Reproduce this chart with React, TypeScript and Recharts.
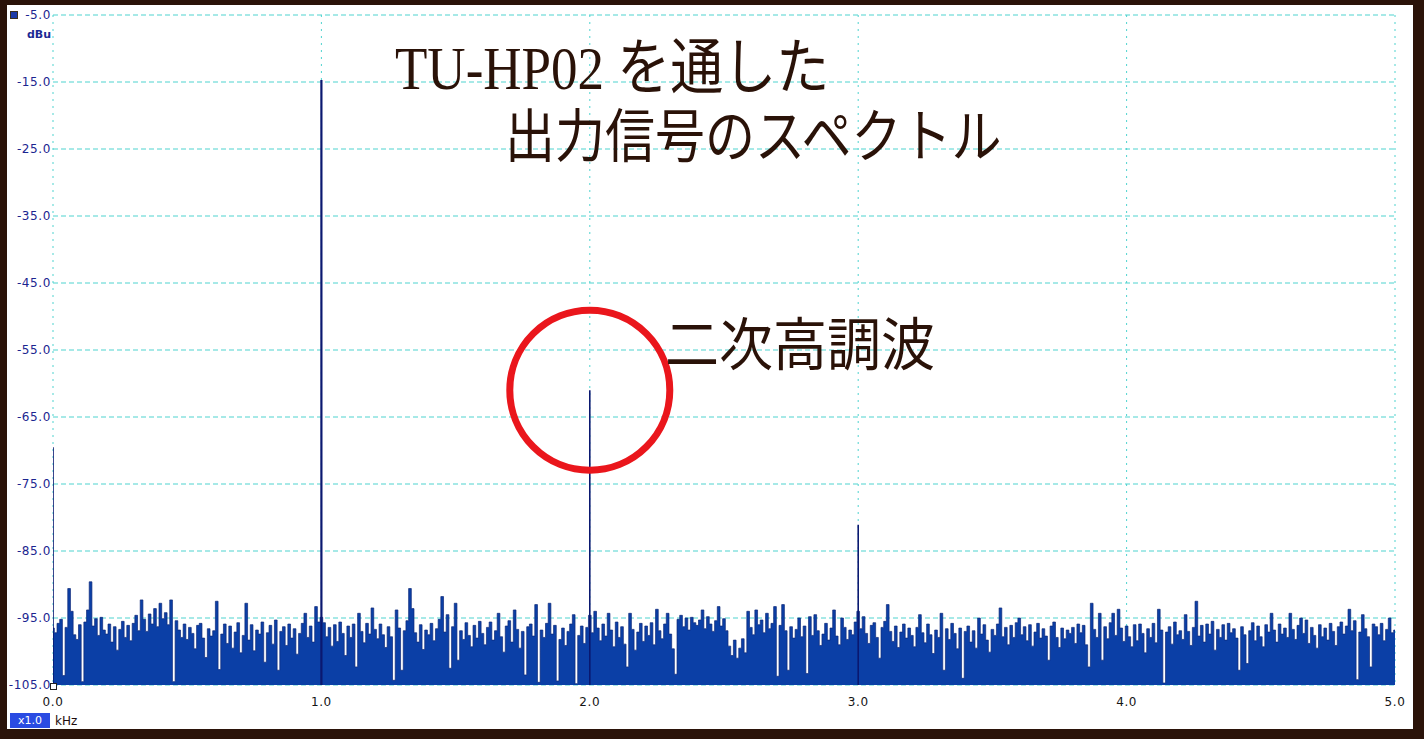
import React from 'react';
import { ComposedChart, Area, Line, XAxis, YAxis, CartesianGrid, ReferenceDot } from 'recharts';

// Noise floor spectrum, one value per 10 Hz bin from 0.00 to 5.00 kHz (dBu)
const noiseLevels: number[] = [
  -96.5, -97.2, -95.8, -95.2, -103.6, -96.4, -90.6, -94.0, -97.5, -98.2, -96.0, -104.5, -95.6, -93.8, -89.6, -96.2, -95.1, -97.6, -94.9, -96.8,
  -97.4, -95.9, -98.6, -96.3, -99.8, -96.7, -95.5, -97.9, -96.1, -98.4, -95.8, -94.6, -96.9, -92.3, -95.2, -97.0, -94.4, -95.9, -93.6, -96.3,
  -92.8, -95.1, -94.2, -96.0, -92.3, -104.5, -95.4, -96.8, -97.9, -95.9, -98.2, -96.4, -97.3, -99.6, -96.1, -95.8, -98.0, -100.9, -96.6, -97.7,
  -96.9, -92.5, -102.7, -97.4, -95.9, -98.8, -96.2, -99.5, -97.1, -95.7, -100.2, -97.6, -92.8, -98.3, -96.0, -99.9, -96.8, -97.4, -95.6, -101.6,
  -97.2, -96.1, -98.9, -95.3, -102.8, -97.0, -96.3, -99.1, -95.9, -98.0, -96.6, -100.4, -97.3, -95.8, -94.3, -97.9, -96.2, -98.6, -93.3, -95.6,
  -94.9, -95.7, -97.8, -96.4, -99.2, -96.0, -98.5, -95.6, -97.3, -100.6, -96.2, -97.9, -95.9, -102.3, -94.3, -97.0, -98.7, -95.8, -97.4, -93.5,
  -96.7, -98.1, -95.9, -97.5, -99.4, -96.3, -97.8, -104.3, -93.8, -96.5, -102.8, -96.9, -95.4, -90.6, -93.6, -97.2, -98.6, -96.0, -99.7, -96.8,
  -97.5, -95.8, -98.4, -96.6, -95.2, -91.8, -97.1, -94.5, -102.5, -96.3, -92.8, -101.3, -96.9, -98.2, -95.7, -97.6, -99.3, -96.1, -98.0, -95.5,
  -97.3, -99.0, -96.4, -95.6, -98.3, -96.9, -94.3, -97.8, -100.1, -96.2, -95.4, -98.6, -93.8, -96.7, -99.5, -97.0, -103.5, -96.3, -95.9, -97.7,
  -93.0, -104.6, -96.8, -97.9, -95.8, -92.8, -97.4, -96.1, -104.4, -98.2, -96.5, -99.1, -97.0, -95.9, -94.5, -104.8, -97.6, -96.2, -98.8, -96.4,
  -94.6, -97.2, -94.0, -96.5, -98.4, -95.9, -97.7, -94.3, -96.8, -99.3, -95.6, -97.9, -96.3, -98.9, -102.3, -94.3, -96.7, -99.8, -97.1, -95.8,
  -98.5, -96.2, -97.6, -95.7, -99.0, -93.7, -96.9, -98.1, -95.9, -94.3, -97.4, -99.6, -103.4, -95.2, -94.6, -96.3, -95.0, -96.8, -94.9, -95.7,
  -96.1, -95.3, -93.8, -96.6, -94.8, -95.9, -97.0, -95.4, -93.3, -96.2, -95.1, -96.9, -99.2, -100.6, -98.3, -101.0, -99.5, -98.1, -100.2, -94.0,
  -96.4, -97.5, -93.8, -96.0, -95.3, -97.2, -94.3, -96.6, -95.8, -93.3, -103.7, -96.1, -93.0, -96.9, -102.8, -96.3, -98.0, -96.7, -95.0, -97.8,
  -96.2, -103.3, -94.8, -97.6, -94.5, -96.9, -99.1, -97.4, -95.8, -98.3, -96.5, -93.8, -97.7, -99.0, -95.0, -96.4, -98.2, -96.8, -97.5, -95.6,
  -94.0, -96.6, -94.8, -97.3, -98.8, -96.1, -95.7, -97.9, -101.0, -96.4, -95.5, -93.0, -97.0, -98.5, -96.2, -99.4, -97.1, -95.9, -98.0, -96.5,
  -97.6, -99.3, -96.4, -94.5, -97.2, -98.7, -95.9, -97.5, -100.3, -96.8, -97.9, -94.3, -102.8, -96.6, -98.2, -95.8, -97.3, -99.6, -96.5, -104.0,
  -97.0, -96.2, -98.6, -96.9, -99.5, -95.0, -97.4, -96.0, -98.3, -100.1, -96.7, -97.6, -95.9, -93.5, -97.8, -96.4, -99.0, -96.1, -97.9, -95.7,
  -95.0, -97.5, -96.3, -98.4, -96.0, -99.2, -97.1, -95.8, -98.0, -96.6, -97.7, -101.3, -96.2, -95.6, -97.9, -99.4, -96.5, -98.1, -96.8, -97.3,
  -96.4, -98.8, -95.9, -97.2, -96.1, -99.0, -102.3, -92.8, -96.7, -97.9, -94.3, -101.3, -96.3, -98.1, -95.7, -94.3, -97.6, -93.7, -96.5, -98.5,
  -96.2, -97.8, -99.3, -96.0, -98.4, -95.9, -97.3, -100.2, -96.6, -97.9, -95.8, -98.7, -93.7, -96.8, -104.7, -97.1, -96.3, -98.9, -95.6, -97.5,
  -96.9, -98.2, -94.5, -97.0, -99.1, -96.4, -92.5, -97.7, -96.1, -98.6, -95.9, -97.4, -95.5, -99.8, -96.7, -97.9, -96.0, -98.3, -95.8, -97.2,
  -96.6, -98.0, -102.8, -96.3, -97.5, -101.8, -96.9, -95.7, -98.4, -96.2, -97.8, -99.3, -96.0, -97.1, -94.3, -96.8, -98.6, -95.9, -97.4, -96.5,
  -97.9, -94.3, -96.7, -98.2, -96.1, -95.0, -97.3, -95.3, -98.8, -96.4, -97.6, -99.5, -96.0, -97.8, -96.5, -98.3, -95.8, -97.0, -99.1, -96.3,
  -95.6, -97.4, -96.2, -93.7, -96.9, -95.4, -104.2, -97.1, -94.5, -96.6, -97.8, -102.3, -95.9, -96.3, -97.5, -95.8, -98.4, -96.7, -95.0, -97.2,
  -96.8,
];
const BIN_KHZ = 0.01;

// Discrete spectral lines: DC, fundamental, 2nd and 3rd harmonics
const peakFreqs: number[] = [0.0, 1.0, 2.0, 3.0];
const peakLevels: number[] = [-69.5, -14.7, -61.0, -81.1];

const yTicks: number[] = [-5, -15, -25, -35, -45, -55, -65, -75, -85, -95, -105];
const xTicks: number[] = [0, 1, 2, 3, 4, 5];

const FLOOR = -105;

const noiseData = noiseLevels.map((v, i) => ({ f: Math.round(i * BIN_KHZ * 100) / 100, v }));
const peakSeries = peakFreqs.map((f, i) => [
  { f, v: FLOOR },
  { f, v: peakLevels[i] },
]);

const TEXT_COLOR = '#2a1208';
const titleFont = "'Liberation Serif', 'Noto Sans CJK JP', serif";
const axisFont = "'DejaVu Sans', Verdana, sans-serif";

export default function App() {
  return (
    <div style={{ position: 'fixed', left: 0, top: 0, width: 1424, height: 739, background: '#2b1309', overflow: 'hidden' }}>
      <div style={{ position: 'absolute', left: 7, top: 5, width: 1406, height: 724, background: '#ffffff' }} />
      <div style={{ position: 'absolute', left: 0, top: 0 }}>
        <ComposedChart width={1424} height={739} margin={{ top: 15, right: 29, bottom: 0, left: 0 }}>
          <CartesianGrid horizontal vertical={false} stroke="#4fd3cf" strokeDasharray="5 3" />
          <CartesianGrid horizontal={false} vertical stroke="#4fd3cf" strokeDasharray="2 5" />
          <XAxis
            dataKey="f"
            type="number"
            domain={[0, 5]}
            ticks={xTicks}
            interval={0}
            allowDataOverflow
            tickFormatter={(v: number) => v.toFixed(1)}
            axisLine={false}
            tickLine={false}
            tickSize={0}
            tickMargin={12}
            height={54}
            tick={{ fill: '#151515', fontSize: 12, fontFamily: axisFont, letterSpacing: 0.6 }}
          />
          <YAxis
            type="number"
            domain={[-105, -5]}
            ticks={yTicks}
            interval={0}
            allowDataOverflow
            tickFormatter={(v: number) => v.toFixed(1)}
            axisLine={false}
            tickLine={false}
            tickSize={0}
            tickMargin={2}
            width={53}
            tick={{ fill: '#1b2590', fontSize: 12, fontFamily: axisFont, letterSpacing: 0.6 }}
          />
          <Area
            data={noiseData}
            dataKey="v"
            type="step"
            baseValue={FLOOR}
            fill="#0b3fa6"
            fillOpacity={1}
            stroke="#0d2878"
            strokeWidth={0.7}
            dot={false}
            activeDot={false}
            isAnimationActive={false}
          />
          {peakSeries.map((d, i) => (
            <Line
              key={i}
              data={d}
              dataKey="v"
              type="linear"
              stroke="#0a1870"
              strokeWidth={i === 1 ? 2.2 : 1.6}
              dot={false}
              activeDot={false}
              isAnimationActive={false}
            />
          ))}
          <ReferenceDot x={2.0} y={-61} r={80} fill="none" stroke="#ea161c" strokeWidth={7} ifOverflow="visible" />
        </ComposedChart>
      </div>

      {/* legend swatch and unit */}
      <div style={{ position: 'absolute', left: 10, top: 11, width: 6, height: 6, background: '#1c3aa8', border: '1px solid #3a3020' }} />
      <div style={{ position: 'absolute', left: 27, top: 29, fontFamily: axisFont, fontSize: 11, fontWeight: 'bold', color: '#1b2a94', lineHeight: '12px' }}>dBu</div>
      {/* corner marker */}
      <div style={{ position: 'absolute', left: 50, top: 683, width: 5, height: 5, background: '#ffffff', border: '1px solid #222' }} />
      {/* zoom box and x unit */}
      <div style={{ position: 'absolute', left: 10, top: 713, width: 40, height: 15, background: '#2a4be2', color: '#ffffff', fontFamily: axisFont, fontSize: 11, lineHeight: '15px', textAlign: 'center' }}>x1.0</div>
      <div style={{ position: 'absolute', left: 55, top: 714, fontFamily: axisFont, fontSize: 12, color: '#1e0c0c', lineHeight: '14px' }}>kHz</div>

      {/* annotations */}
      <div style={{ position: 'absolute', left: 395, top: 38, fontFamily: titleFont, fontSize: 53, color: TEXT_COLOR, lineHeight: 1, whiteSpace: 'nowrap', transform: 'scaleY(1.15)', transformOrigin: 'top left' }}>TU-HP02 を通した</div>
      <div style={{ position: 'absolute', left: 505, top: 109, fontFamily: titleFont, fontSize: 50, color: TEXT_COLOR, lineHeight: 1, whiteSpace: 'nowrap', transform: 'scaleY(1.15)', transformOrigin: 'top left' }}>出力信号のスペクトル</div>
      <div style={{ position: 'absolute', left: 665, top: 318, fontFamily: titleFont, fontSize: 54, color: TEXT_COLOR, lineHeight: 1, whiteSpace: 'nowrap', transform: 'scaleY(1.05)', transformOrigin: 'top left' }}>二次高調波</div>
    </div>
  );
}
